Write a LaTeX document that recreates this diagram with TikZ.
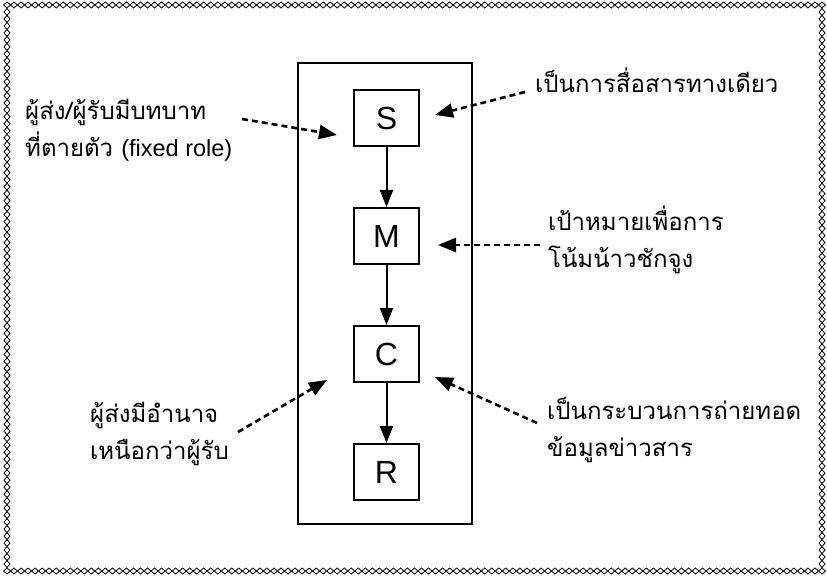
\documentclass[tikz,border=0pt]{standalone}
\usepackage{fontspec}
\setmainfont{Liberation Sans}
\newfontfamily\thaifont[Script=Thai]{Loma}
\usetikzlibrary{arrows.meta,positioning}

\tikzset{
    letterbox/.style={draw, line width=2pt, minimum width=65pt, minimum height=56pt, inner sep=0pt, font=\fontsize{32}{32}\selectfont},
    flow/.style={line width=2pt, -{Triangle[length=17pt,width=13pt]}},
    pointer/.style={line width=2.6pt, dash pattern=on 6pt off 4pt, -{Triangle[length=18pt,width=14pt]}},
    note/.style={align=left, anchor=west, inner sep=0pt, font=\thaifont\fontsize{24}{37}\selectfont},
    rim/.style={line width=0.8pt, line join=miter},
}

\begin{document}
\begin{tikzpicture}[x=1pt, y=-1pt]
    \useasboundingbox (0,0) rectangle (827,577);

    % diamond chain round the page
    \foreach \i in {0,...,116} {
        \pgfmathsetmacro\xx{7+\i*7.02586}
        \draw[rim] (\xx,5) +(-3.5,0) -- +(0,3) -- +(3.5,0) -- +(0,-3) -- cycle;
        \draw[rim] (\xx,571) +(-3.5,0) -- +(0,3) -- +(3.5,0) -- +(0,-3) -- cycle;
    }
    \foreach \i in {1,...,80} {
        \pgfmathsetmacro\yy{5+\i*6.98765}
        \draw[rim] (7,\yy) +(-3,0) -- +(0,3.5) -- +(3,0) -- +(0,-3.5) -- cycle;
        \draw[rim] (822,\yy) +(-3,0) -- +(0,3.5) -- +(3,0) -- +(0,-3.5) -- cycle;
    }

    % the channel frame and the four boxes
    \node[draw, line width=2.6pt, minimum width=174pt, minimum height=461pt] (frame) at (385,293.5) {};
    \node[letterbox] (s) at (386.5,118) {S};
    \node[letterbox, below=60pt of s] (m) {M};
    \node[letterbox, below=60pt of m] (c) {C};
    \node[letterbox, below=60pt of c] (r) {R};

    \draw[flow] (s) -- (m);
    \draw[flow] (m) -- (c);
    \draw[flow] (c) -- (r);

    % notes round the frame
    \node[note] (role) at (25,130) {ผู้ส่ง/ผู้รับมีบทบาท\\ที่ตายตัว {\rmfamily\fontsize{23.5}{37}\selectfont (fixed role)}};
    \node[note] (oneway) at (535,80) {เป็นการสื่อสารทางเดียว};
    \node[note] (aim) at (548,240) {เป้าหมายเพื่อการ\\โน้มน้าวชักจูง};
    \node[note] (power) at (90,434) {ผู้ส่งมีอำนาจ\\เหนือกว่าผู้รับ};
    \node[note] (pass) at (547,430) {เป็นกระบวนการถ่ายทอด\\ข้อมูลข่าวสาร};

    % dashed pointers
    \coordinate (role-from) at (242,119);
    \coordinate (role-to) at (337,135);
    \coordinate (oneway-from) at (525,92);
    \coordinate (oneway-to) at (435,115);
    \coordinate (aim-from) at (540,245);
    \coordinate (aim-to) at (438,245);
    \coordinate (power-from) at (238,432);
    \coordinate (power-to) at (327,380);
    \coordinate (pass-from) at (537,423);
    \coordinate (pass-to) at (435,377);

    \draw[pointer] (role-from) -- (role-to);
    \draw[pointer] (oneway-from) -- (oneway-to);
    \draw[pointer] (aim-from) -- (aim-to);
    \draw[pointer] (power-from) -- (power-to);
    \draw[pointer] (pass-from) -- (pass-to);
\end{tikzpicture}
\end{document}
